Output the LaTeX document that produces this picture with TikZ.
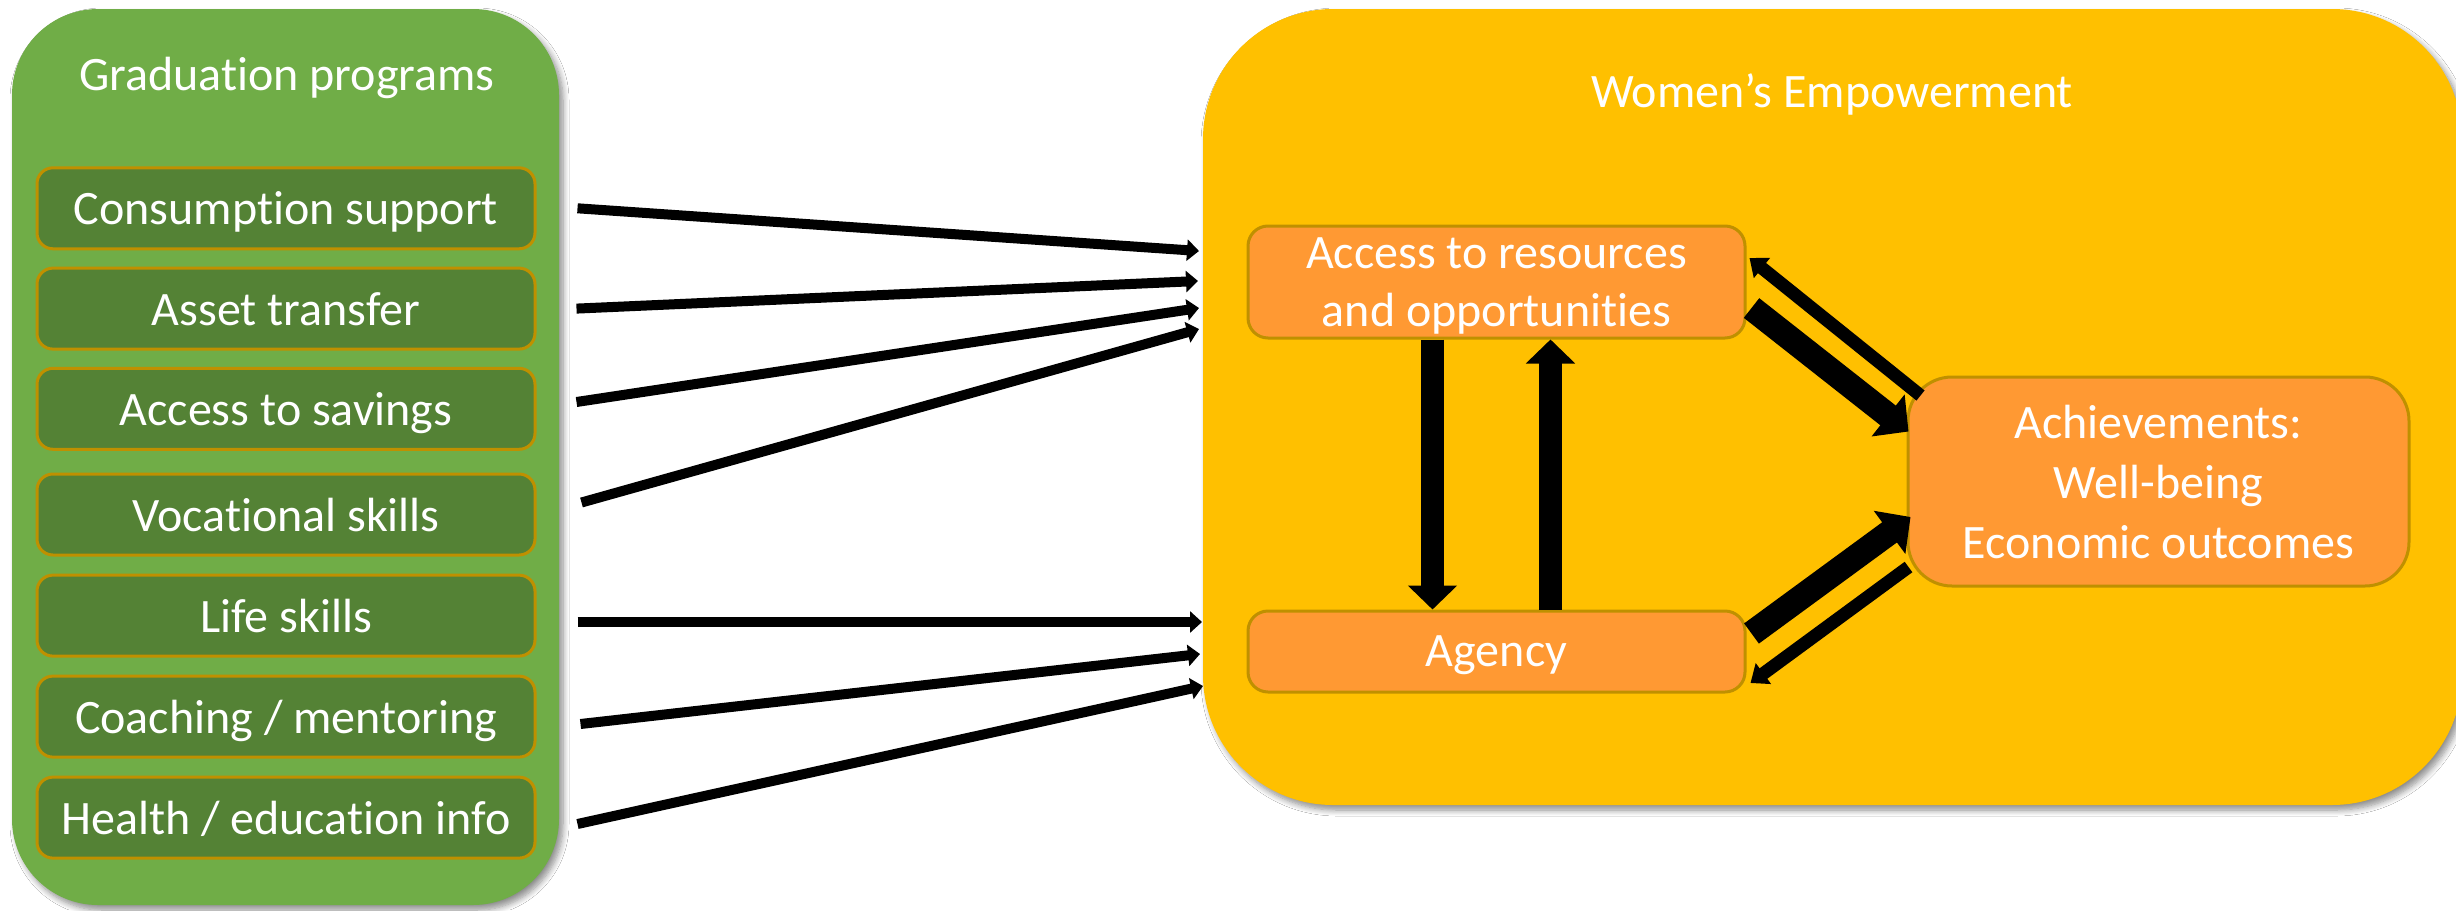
\documentclass[tikz,border=0pt]{standalone}
\usepackage{fontspec}
\setmainfont{Carlito}[Ligatures=NoCommon]
\usetikzlibrary{arrows.meta,shadows.blur}
\definecolor{panelgreen}{HTML}{70AD47}
\definecolor{itemgreen}{HTML}{548235}
\definecolor{panelyellow}{HTML}{FFC000}
\definecolor{boxorange}{HTML}{FF9933}
\definecolor{edgegold}{HTML}{BF9000}

\begin{document}
\begin{tikzpicture}[x=0.5pt,y=-0.5pt,
  lbl/.style={text=white,font=\fontsize{24}{29}\selectfont,align=center,text depth=0pt},
  panel/.style={draw=none,blur shadow={shadow xshift=2pt,shadow yshift=-2.5pt,
      shadow blur radius=3pt,shadow blur steps=8,shadow opacity=45}},
  item/.style={lbl,fill=itemgreen,draw=edgegold,line width=1.5pt,rounded corners=8pt,
      minimum width=249pt,minimum height=40.5pt,inner sep=0pt},
  stage/.style={lbl,fill=boxorange,draw=edgegold,line width=1.5pt,rounded corners=10pt,
      minimum width=248.5pt,inner sep=0pt},
  feed/.style={line width=5pt,-{Triangle[length=6pt,width=10.5pt]}},
  heavy/.style={line width=11.5pt,-{Triangle[length=12pt,width=24pt]}},
  heavydiag/.style={line width=12.5pt,-{Triangle[length=13pt,width=26pt]}},
  back/.style={line width=6.5pt,-{Triangle[length=8pt,width=12.5pt]}},
]
\useasboundingbox (0,0) rectangle (2456,910);
\fill[white] (0,0) rectangle (2456,910);

% programme components
\node[panel,fill=panelgreen,rounded corners=43pt,minimum width=273.5pt,minimum height=448pt] (grad) at (285.5,457) {};
\node[lbl] (gradtitle) at (287,74) {Graduation programs};
\node[item] (cs) at (286,208.3) {Consumption support};
\node[item] (at) at (286,308.6) {Asset transfer};
\node[item] (sv) at (286,408.8) {Access to savings};
\node[item] (vs) at (286,514.5) {Vocational skills};
\node[item] (ls) at (286,615.6) {Life skills};
\node[item] (cm) at (286,716.6) {Coaching / mentoring};
\node[item] (he) at (286,817.6) {Health / education info};

% empowerment framework
\node[panel,fill=panelyellow,rounded corners=65pt,minimum width=629.5pt,minimum height=398pt] (emp) at (1832.5,407) {};
\node[lbl] (emptitle) at (1832,91) {Women’s Empowerment};
\node[stage,minimum height=56pt] (acc) at (1496.5,282) {Access to resources\\and opportunities};
\node[stage,minimum height=40.5pt] (agy) at (1496.5,651.5) {Agency};
\node[stage,rounded corners=22pt,minimum width=250.5pt,minimum height=104.5pt,font=\fontsize{24}{30}\selectfont] (ach) at (2158.5,481.5) {Achievements:\\Well-being\\Economic outcomes};

% arrow ends on the panel edge
\coordinate (e1) at (1199,251);
\coordinate (e2) at (1198,281);
\coordinate (e3) at (1199,308);
\coordinate (e4) at (1199,329);
\coordinate (e5) at (1202,622);
\coordinate (e6) at (1200,654);
\coordinate (e7) at (1203,686);

\draw[feed] ([xshift=20.5pt]cs.east) -- (e1);
\draw[feed] ([xshift=20pt]at.east) -- (e2);
\draw[feed] ([xshift=20pt,yshift=3.4pt]sv.east) -- (e3);
\draw[feed] ([xshift=22.5pt,yshift=6pt]vs.east) -- (e4);
\draw[feed] ([xshift=20.5pt,yshift=-3.2pt]ls.east) -- (e5);
\draw[feed] ([xshift=22pt,yshift=-3.7pt]cm.east) -- (e6);
\draw[feed] ([xshift=20.5pt,yshift=-3.2pt]he.east) -- (e7);

% links inside the framework
\draw[heavy] ([xshift=-32pt]acc.south) -- ([xshift=-32pt]agy.north);
\draw[heavy] ([xshift=27pt]agy.north) -- ([xshift=27pt]acc.south);
\draw[heavydiag] ([xshift=2.5pt,yshift=-13pt]acc.east) -- ([xshift=1pt,yshift=25pt]ach.west);
\draw[back] ([xshift=7pt,yshift=43pt]ach.west) -- ([xshift=1.5pt,yshift=12pt]acc.east);
\draw[heavydiag] ([xshift=2.5pt,yshift=9pt]agy.east) -- ([xshift=2pt,yshift=-17.75pt]ach.west);
\draw[back] ([xshift=1pt,yshift=-42.75pt]ach.west) -- ([xshift=2pt,yshift=-15.75pt]agy.east);
\end{tikzpicture}
\end{document}
